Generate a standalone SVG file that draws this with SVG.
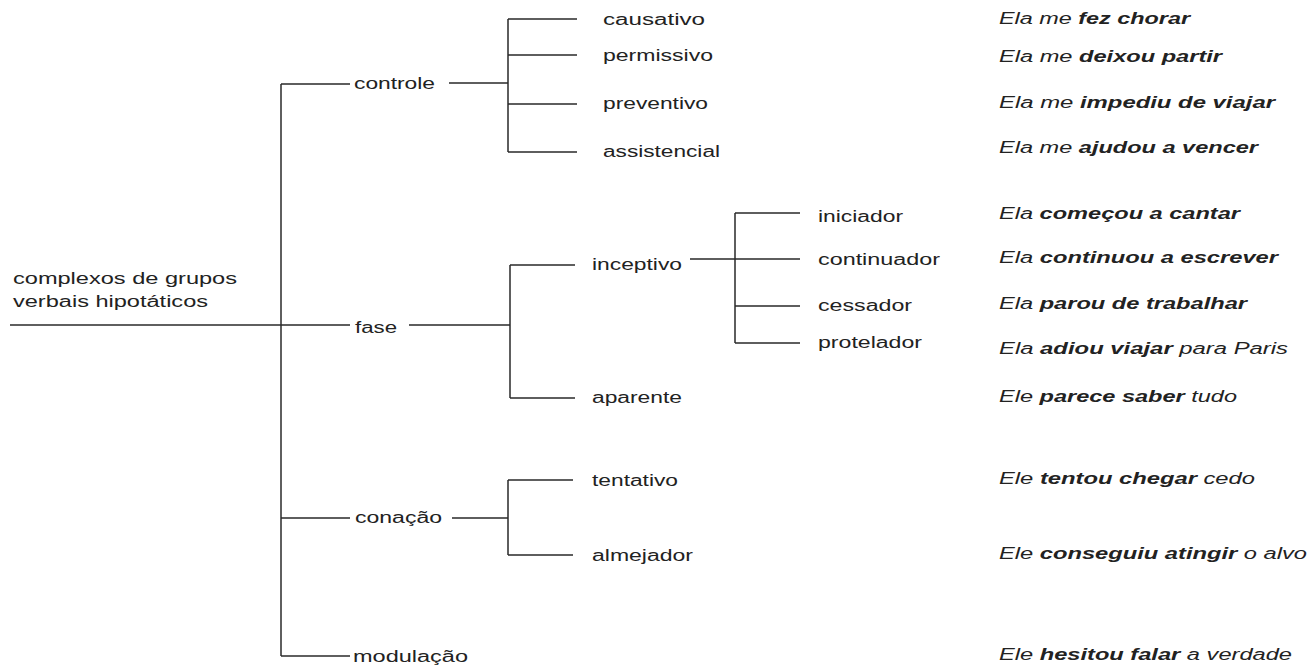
<svg xmlns="http://www.w3.org/2000/svg" width="1311" height="665" viewBox="0 0 1311 665">
  <style>
    .ln { stroke: #2a2a2a; stroke-width: 1.5; fill: none; }
    text { font-family: "Liberation Sans", Arial, sans-serif; font-size: 16px; fill: #222; }
    .ex { font-style: italic; }
    .ex tspan.b { font-weight: bold; }
  </style>
  <rect width="1311" height="665" fill="#fff"/>

  <!-- connectors of the tree -->
  <g id="connectors" class="ln">
    <path d="M10 325 H281"/>
    <path d="M281 84 V656"/>
    <!-- controle -->
    <path d="M281 84 H350 M449 83 H508 M508 19 V152"/>
    <path d="M508 19 H577 M508 55 H577 M508 104 H577 M508 152 H577"/>
    <!-- fase -->
    <path d="M281 325 H350 M409 325 H510 M510 265 V398"/>
    <path d="M510 265 H575 M510 398 H575"/>
    <!-- inceptivo -->
    <path d="M690 259 H800 M735 213 V343"/>
    <path d="M735 213 H800 M735 306 H800 M735 343 H800"/>
    <!-- conação -->
    <path d="M281 518 H350 M452 518 H508 M508 480 V555"/>
    <path d="M508 480 H573 M508 555 H573"/>
    <!-- modulação -->
    <path d="M281 656 H350"/>
  </g>

  <g id="root"><text x="13" y="284" textLength="224" lengthAdjust="spacingAndGlyphs">complexos de grupos</text>
    <text x="13" y="307" textLength="195" lengthAdjust="spacingAndGlyphs">verbais hipotáticos</text></g>

  <g id="controle"><text x="354" y="89" textLength="81" lengthAdjust="spacingAndGlyphs">controle</text></g>
  <g id="causativo"><text x="603" y="25" textLength="102" lengthAdjust="spacingAndGlyphs">causativo</text></g>
  <g id="permissivo"><text x="603" y="61" textLength="110" lengthAdjust="spacingAndGlyphs">permissivo</text></g>
  <g id="preventivo"><text x="603" y="109" textLength="105" lengthAdjust="spacingAndGlyphs">preventivo</text></g>
  <g id="assistencial"><text x="603" y="157" textLength="117" lengthAdjust="spacingAndGlyphs">assistencial</text></g>

  <g id="fase"><text x="355" y="333" textLength="42" lengthAdjust="spacingAndGlyphs">fase</text></g>
  <g id="inceptivo"><text x="592" y="270" textLength="90" lengthAdjust="spacingAndGlyphs">inceptivo</text></g>
  <g id="iniciador"><text x="818" y="222" textLength="85" lengthAdjust="spacingAndGlyphs">iniciador</text></g>
  <g id="continuador"><text x="818" y="265" textLength="122" lengthAdjust="spacingAndGlyphs">continuador</text></g>
  <g id="cessador"><text x="818" y="311" textLength="94" lengthAdjust="spacingAndGlyphs">cessador</text></g>
  <g id="protelador"><text x="818" y="348" textLength="104" lengthAdjust="spacingAndGlyphs">protelador</text></g>
  <g id="aparente"><text x="592" y="403" textLength="90" lengthAdjust="spacingAndGlyphs">aparente</text></g>

  <g id="conacao"><text x="355" y="523" textLength="87" lengthAdjust="spacingAndGlyphs">conação</text></g>
  <g id="tentativo"><text x="592" y="486" textLength="86" lengthAdjust="spacingAndGlyphs">tentativo</text></g>
  <g id="almejador"><text x="592" y="561" textLength="101" lengthAdjust="spacingAndGlyphs">almejador</text></g>

  <g id="modulacao"><text x="353" y="662" textLength="115" lengthAdjust="spacingAndGlyphs">modulação</text></g>

  <!-- example sentences -->
  <g id="examples">
    <text class="ex" x="999" y="24" textLength="191" lengthAdjust="spacingAndGlyphs">Ela me <tspan class="b">fez chorar</tspan></text>
    <text class="ex" x="999" y="62" textLength="223" lengthAdjust="spacingAndGlyphs">Ela me <tspan class="b">deixou partir</tspan></text>
    <text class="ex" x="999" y="108" textLength="276" lengthAdjust="spacingAndGlyphs">Ela me <tspan class="b">impediu de viajar</tspan></text>
    <text class="ex" x="999" y="153" textLength="259" lengthAdjust="spacingAndGlyphs">Ela me <tspan class="b">ajudou a vencer</tspan></text>
    <text class="ex" x="999" y="219" textLength="241" lengthAdjust="spacingAndGlyphs">Ela <tspan class="b">começou a cantar</tspan></text>
    <text class="ex" x="999" y="263" textLength="279" lengthAdjust="spacingAndGlyphs">Ela <tspan class="b">continuou a escrever</tspan></text>
    <text class="ex" x="999" y="309" textLength="248" lengthAdjust="spacingAndGlyphs">Ela <tspan class="b">parou de trabalhar</tspan></text>
    <text class="ex" x="999" y="354" textLength="289" lengthAdjust="spacingAndGlyphs">Ela <tspan class="b">adiou viajar</tspan> para Paris</text>
    <text class="ex" x="999" y="402" textLength="238" lengthAdjust="spacingAndGlyphs">Ele <tspan class="b">parece saber</tspan> tudo</text>
    <text class="ex" x="999" y="484" textLength="256" lengthAdjust="spacingAndGlyphs">Ele <tspan class="b">tentou chegar</tspan> cedo</text>
    <text class="ex" x="999" y="559" textLength="308" lengthAdjust="spacingAndGlyphs">Ele <tspan class="b">conseguiu atingir</tspan> o alvo</text>
    <text class="ex" x="999" y="660" textLength="293" lengthAdjust="spacingAndGlyphs">Ele <tspan class="b">hesitou falar</tspan> a verdade</text>
  </g>
</svg>
